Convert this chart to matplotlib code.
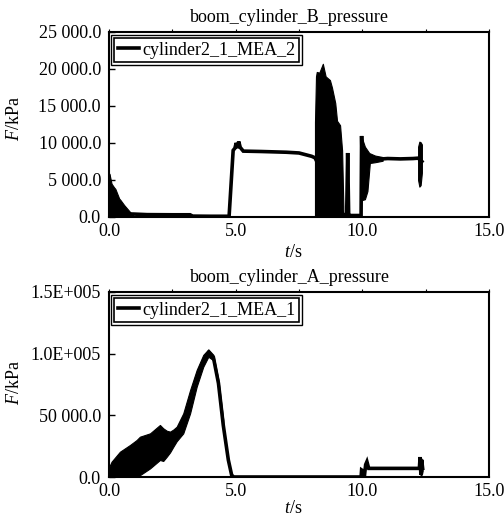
import matplotlib
matplotlib.use("Agg")
import matplotlib.pyplot as plt
from matplotlib.ticker import FixedLocator, FixedFormatter, MultipleLocator
from matplotlib.patches import Rectangle
from matplotlib.transforms import IdentityTransform

plt.rcParams['font.family'] = ['Liberation Serif', 'DejaVu Serif']
plt.rcParams['mathtext.fontset'] = 'custom'
plt.rcParams['mathtext.rm'] = 'Liberation Serif'
plt.rcParams['mathtext.it'] = 'Liberation Serif:italic'

FS = 13

# ---------------- data: boom_cylinder_B_pressure ----------------
B_title = "boom_cylinder_B_pressure"
B_label = "cylinder2_1_MEA_2"
B_t = [0.00, 0.95, 1.5, 2.5, 3.2, 3.3, 4.0, 4.74, 4.9, 4.97, 5.02, 5.07, 5.12, 5.18, 5.3,
       6.0, 7.0, 7.5, 8.0, 8.13, 9.25, 9.3, 9.38, 9.42, 9.46, 9.5, 9.95, 9.97, 10.0,
       10.3, 10.6, 11.0, 11.5, 12.0, 12.2, 12.35]
B_p = [400, 400, 320, 300, 300, 120, 100, 100, 9000, 9300, 10000, 9300, 10200, 9400, 8900,
       8850, 8750, 8650, 8200, 8000, 300, 200, 200, 8650, 200, 200, 200, 10950, 6000,
       7900, 7800, 7900, 7850, 7900, 7950, 7500]
# oscillation envelopes (t, low, high)
B_band1_t = [0.0, 0.02, 0.1, 0.2, 0.25, 0.4, 0.45, 0.6, 0.7, 0.85, 0.95]
B_band1_lo = [0, 0, 0, 0, 0, 0, 0, 0, 0, 0, 0]
B_band1_hi = [5900, 5800, 4500, 4000, 3800, 2500, 2300, 1600, 1200, 600, 400]
B_band2_t = [8.13, 8.17, 8.2, 8.3, 8.44, 8.55, 8.72, 8.8, 8.93, 9.0, 9.12, 9.2, 9.25]
B_band2_lo = [0, 0, 0, 0, 0, 0, 0, 0, 0, 0, 0, 0, 0]
B_band2_hi = [12800, 19000, 19600, 19500, 20700, 19000, 18500, 17500, 15400, 13000, 12400, 9000, 1500]
B_band3_t = [9.97, 10.0, 10.1, 10.2, 10.3]
B_band3_lo = [2500, 2300, 2400, 3500, 7500]
B_band3_hi = [10000, 10500, 9500, 9000, 8500]
B_band4_t = [10.3, 10.5, 10.8]
B_band4_lo = [7300, 7400, 7600]
B_band4_hi = [8600, 8300, 8100]
B_band5_t = [12.2, 12.25, 12.3, 12.35]
B_band5_lo = [5000, 4100, 4300, 6000]
B_band5_hi = [9500, 10180, 10100, 9800]
B_yticks = [0, 5000, 10000, 15000, 20000, 25000]
B_yticklabels = ["0.0", "5 000.0", "10 000.0", "15 000.0", "20 000.0", "25 000.0"]

# ---------------- data: boom_cylinder_A_pressure ----------------
A_title = "boom_cylinder_A_pressure"
A_label = "cylinder2_1_MEA_1"
A_t = [0.0, 0.43, 1.09, 1.62, 2.01, 2.41, 2.93, 3.2, 3.46, 3.72, 3.92, 4.12, 4.32, 4.51,
       4.71, 4.84, 4.92, 9.95, 9.97, 10.02, 10.08, 10.13, 10.18, 10.25, 11.0, 12.0,
       12.25, 12.28, 12.31, 12.34, 12.38]
A_p = [4000, 10000, 15000, 21000, 28000, 28000, 43500, 61000, 80000, 94000, 100500, 97000,
       76000, 42000, 13800, 1600, 0, 0, 5700, 5000, 700, 10000, 12400, 7000, 7000, 7000,
       7000, 16200, 2000, 14000, 7000]
A_band1_t = [0.0, 0.1, 0.43, 0.83, 1.09, 1.22, 1.62, 2.01, 2.14, 2.28, 2.41, 2.54, 2.67,
             2.93, 3.2, 3.46, 3.72, 3.92, 4.12, 4.32, 4.51]
A_band1_lo = [0, 0, 0, 0, 0, 1500, 7000, 13800, 13000, 16500, 20000, 24600, 29000,
              35400, 51600, 73200, 89400, 97500, 94600, 73200, 38000]
A_band1_hi = [8000, 12400, 20500, 26000, 30000, 32700, 35400, 42200, 39500, 37500, 36800,
              38500, 40800, 51600, 70500, 86800, 99000, 103500, 99000, 78600, 46200]
A_band2_t = [12.25, 12.3, 12.35, 12.38]
A_band2_lo = [5000, 1500, 2000, 5000]
A_band2_hi = [9000, 16200, 14000, 9000]
A_yticks = [0, 50000, 100000, 150000]
A_yticklabels = ["0.0", "50 000.0", "1.0E+005", "1.5E+005"]

x_ticks = [0, 5, 10, 15]
x_ticklabels = ["0.0", "5.0", "10.0", "15.0"]

fig = plt.figure(figsize=(5.04, 5.19), dpi=100)
ax1 = fig.add_axes([0.2163, 0.5819, 0.754, 0.3565])
ax2 = fig.add_axes([0.2163, 0.0809, 0.754, 0.3565])


def draw(ax, t, p, bands, title, label, yticks, yticklabels, ymax, ylab_y, xlab_y):
    for bt, blo, bhi in bands:
        ax.fill_between(bt, blo, bhi, color='black', lw=0.8, edgecolor='black')
    ax.plot(t, p, color='black', lw=2.6, label=label, solid_joinstyle='miter')
    ax.set_xlim(0, 15)
    ax.set_ylim(0, ymax)
    ax.xaxis.set_major_locator(FixedLocator(x_ticks))
    ax.xaxis.set_major_formatter(FixedFormatter(x_ticklabels))
    ax.xaxis.set_minor_locator(MultipleLocator(2.5))
    ax.yaxis.set_major_locator(FixedLocator(yticks))
    ax.yaxis.set_major_formatter(FixedFormatter(yticklabels))
    ax.tick_params(axis='x', which='both', bottom=False, top=True, direction='out',
                   length=2.5, width=0.8, pad=1.5, labelsize=FS)
    ax.tick_params(axis='y', which='both', left=True, right=False, direction='in',
                   length=4, width=1, pad=5.8, labelsize=FS)
    for s in ax.spines.values():
        s.set_linewidth(1.5)
    ax.set_title(title, fontsize=FS, x=0.4755, pad=7.5)
    ax.set_xlabel(r"$t$/s", fontsize=FS)
    ax.xaxis.set_label_coords(0.484, xlab_y)
    ax.set_ylabel(r"$F$/kPa", fontsize=FS)
    ax.yaxis.set_label_coords(-0.226, ylab_y)
    leg = ax.legend(loc='upper left', bbox_to_anchor=(0.013, 0.968), borderaxespad=0,
                    fontsize=FS, handlelength=1.17, handletextpad=0.2, borderpad=0.2,
                    fancybox=False, framealpha=1)
    leg.get_frame().set_edgecolor('black')
    leg.get_frame().set_linewidth(1.2)
    for h in leg.get_lines():
        h.set_linewidth(2.6)
    return leg


leg1 = draw(ax1, B_t, B_p,
            [(B_band1_t, B_band1_lo, B_band1_hi), (B_band2_t, B_band2_lo, B_band2_hi),
             (B_band3_t, B_band3_lo, B_band3_hi), (B_band4_t, B_band4_lo, B_band4_hi),
             (B_band5_t, B_band5_lo, B_band5_hi)],
            B_title, B_label, B_yticks, B_yticklabels, 25000, 0.53, -0.145)
leg2 = draw(ax2, A_t, A_p,
            [(A_band1_t, A_band1_lo, A_band1_hi), (A_band2_t, A_band2_lo, A_band2_hi)],
            A_title, A_label, A_yticks, A_yticklabels, 150000, 0.513, -0.122)

fig.canvas.draw()
for leg in (leg1, leg2):
    bb = leg.get_window_extent()
    r = Rectangle((bb.x0 - 3, bb.y0 - 3), bb.width + 6, bb.height + 6,
                  transform=IdentityTransform(), fill=False, lw=1.0, ec='black')
    fig.add_artist(r)

fig.savefig("out.png", dpi=100)
